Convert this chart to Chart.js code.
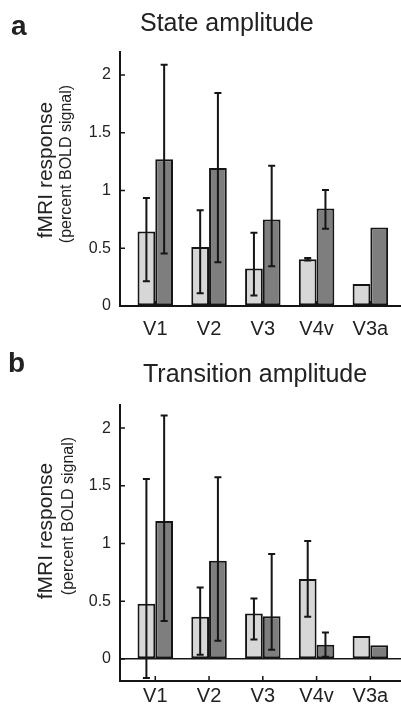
<!DOCTYPE html>
<html>
<head>
<meta charset="utf-8">
<script src="https://cdn.jsdelivr.net/npm/chart.js@4/dist/chart.umd.min.js"></script>
<style>
  body { margin: 0; background: #fff; }
  canvas { display: block; }
</style>
</head>
<body>
<canvas id="chartA" width="401" height="350"></canvas>
<canvas id="chartB" width="401" height="356"></canvas>
<script>
var regions = ['V1', 'V2', 'V3', 'V4v', 'V3a']
var yTicks = [0, 0.5, 1, 1.5, 2]

// a: state amplitude
var stateLight = [0.645, 0.51, 0.325, 0.405, 0.19]
var stateLightLo = [0.215, 0.11, 0.09, 0.395, null]
var stateLightHi = [0.935, 0.83, 0.635, 0.415, null]
var stateDark = [1.27, 1.195, 0.75, 0.845, 0.68]
var stateDarkLo = [0.455, 0.38, 0.345, 0.67, null]
var stateDarkHi = [2.09, 1.845, 1.215, 1.005, null]

// b: transition amplitude
var transLight = [0.48, 0.366, 0.395, 0.694, 0.2]
var transLightLo = [-0.164, 0.038, 0.17, 0.366, null]
var transLightHi = [1.56, 0.62, 0.524, 1.022, null]
var transDark = [1.195, 0.852, 0.37, 0.124, 0.12]
var transDarkLo = [0.33, 0.159, 0.081, 0.02, null]
var transDarkHi = [2.11, 1.575, 0.91, 0.23, null]

Chart.defaults.font.family = '"Liberation Sans", Arial, sans-serif'
Chart.defaults.color = '#222'

var INK = '#151515'

function points(vals) {
  return vals.map(function(v, i) { return {x: i, y: v} })
}

var errorBars = {
  id: 'errorBars',
  afterDatasetsDraw: function(chart) {
    var ctx = chart.ctx
    var y = chart.scales.y
    ctx.save()
    ctx.strokeStyle = INK
    ctx.lineWidth = 2
    chart.data.datasets.forEach(function(ds, i) {
      chart.getDatasetMeta(i).data.forEach(function(bar, j) {
        if (ds.lo[j] == null) return
        var top = y.getPixelForValue(ds.hi[j])
        var bot = y.getPixelForValue(ds.lo[j])
        ctx.beginPath()
        ctx.moveTo(bar.x, top); ctx.lineTo(bar.x, bot)
        ctx.moveTo(bar.x - 3.5, top); ctx.lineTo(bar.x + 3.5, top)
        ctx.moveTo(bar.x - 3.5, bot); ctx.lineTo(bar.x + 3.5, bot)
        ctx.stroke()
      })
    })
    ctx.restore()
  }
}

var panelText = {
  id: 'panelText',
  afterDraw: function(chart, args, o) {
    var ctx = chart.ctx
    var area = chart.chartArea
    var x = chart.scales.x, y = chart.scales.y
    ctx.save()
    // inward ticks
    ctx.strokeStyle = INK
    ctx.lineWidth = 1.5
    ctx.beginPath()
    y.ticks.forEach(function(t) {
      var py = y.getPixelForValue(t.value)
      ctx.moveTo(area.left, py); ctx.lineTo(area.left + 5, py)
    })
    x.ticks.forEach(function(t) {
      var px = x.getPixelForValue(t.value)
      ctx.moveTo(px, area.bottom); ctx.lineTo(px, area.bottom - 5)
    })
    ctx.stroke()

    ctx.fillStyle = '#222'
    ctx.textBaseline = 'alphabetic'
    ctx.textAlign = 'left'
    ctx.font = 'bold 28px "Liberation Sans", Arial, sans-serif'
    ctx.fillText(o.letter, o.letterX, o.letterY)
    ctx.font = '25px "Liberation Sans", Arial, sans-serif'
    ctx.fillText(o.title, o.titleX, o.titleY)

    ctx.textAlign = 'center'
    ctx.textBaseline = 'middle'
    ctx.save()
    ctx.translate(o.labelX, o.labelY)
    ctx.rotate(-Math.PI / 2)
    ctx.font = '21px "Liberation Sans", Arial, sans-serif'
    ctx.fillText('fMRI response', 0, 0)
    ctx.restore()
    ctx.save()
    ctx.translate(o.subX, o.subY)
    ctx.rotate(-Math.PI / 2)
    ctx.font = '16px "Liberation Sans", Arial, sans-serif'
    ctx.fillText('(percent BOLD signal)', 0, 0)
    ctx.restore()
    ctx.restore()
  }
}

function makeChart(id, p) {
  return new Chart(document.getElementById(id), {
    type: 'bar',
    data: {
      datasets: [{
        data: points(p.light), lo: p.lightLo, hi: p.lightHi,
        backgroundColor: '#d7d7d7', borderColor: INK, borderWidth: 2, borderSkipped: false
      }, {
        data: points(p.dark), lo: p.darkLo, hi: p.darkHi,
        backgroundColor: '#7e7e7e', borderColor: INK, borderWidth: 2, borderSkipped: false
      }]
    },
    options: {
      responsive: false,
      animation: false,
      devicePixelRatio: 1,
      categoryPercentage: 0.66,
      barPercentage: 1,
      layout: { padding: { top: p.top, left: 0, right: 0, bottom: 0 } },
      plugins: {
        legend: { display: false },
        tooltip: { enabled: false },
        panelText: p.text
      },
      scales: {
        x: {
          type: 'linear',
          offset: false,
          min: -0.656,
          max: 4.57,
          afterBuildTicks: function(s) { s.ticks = regions.map(function(r, i) { return {value: i} }) },
          afterFit: function(s) { s.height = p.xHeight },
          ticks: {
            callback: function(v) { return regions[v] },
            font: { size: 20 }, color: '#222', padding: p.xPad, autoSkip: false, maxRotation: 0
          },
          grid: { display: false, offset: false },
          border: { color: INK, width: 2 }
        },
        y: {
          min: p.yMin,
          max: 2.2,
          afterBuildTicks: function(s) { s.ticks = yTicks.map(function(v) { return {value: v} }) },
          afterFit: function(s) { s.width = 120 },
          ticks: {
            callback: function(v) { return String(v) },
            font: { size: 16 }, color: '#222', padding: 9
          },
          grid: {
            drawTicks: false,
            lineWidth: 1.5,
            color: function(c) {
              return (p.yMin < 0 && c.tick && c.tick.value === 0) ? INK : 'rgba(0,0,0,0)'
            }
          },
          border: { color: INK, width: 2 }
        }
      }
    },
    plugins: [errorBars, panelText]
  })
}

makeChart('chartA', {
  light: stateLight, lightLo: stateLightLo, lightHi: stateLightHi,
  dark: stateDark, darkLo: stateDarkLo, darkHi: stateDarkHi,
  yMin: 0, top: 52, xHeight: 44, xPad: 3,
  text: { letter: 'a', letterX: 11, letterY: 35, title: 'State amplitude', titleX: 140, titleY: 31,
          labelX: 46, labelY: 170, subX: 67, subY: 164 }
})

makeChart('chartB', {
  light: transLight, lightLo: transLightLo, lightHi: transLightHi,
  dark: transDark, darkLo: transDarkLo, darkHi: transDarkHi,
  yMin: -0.19, top: 55, xHeight: 25, xPad: -5,
  text: { letter: 'b', letterX: 8, letterY: 22, title: 'Transition amplitude', titleX: 143, titleY: 32,
          labelX: 46, labelY: 181, subX: 69, subY: 166 }
})
</script>
</body>
</html>
